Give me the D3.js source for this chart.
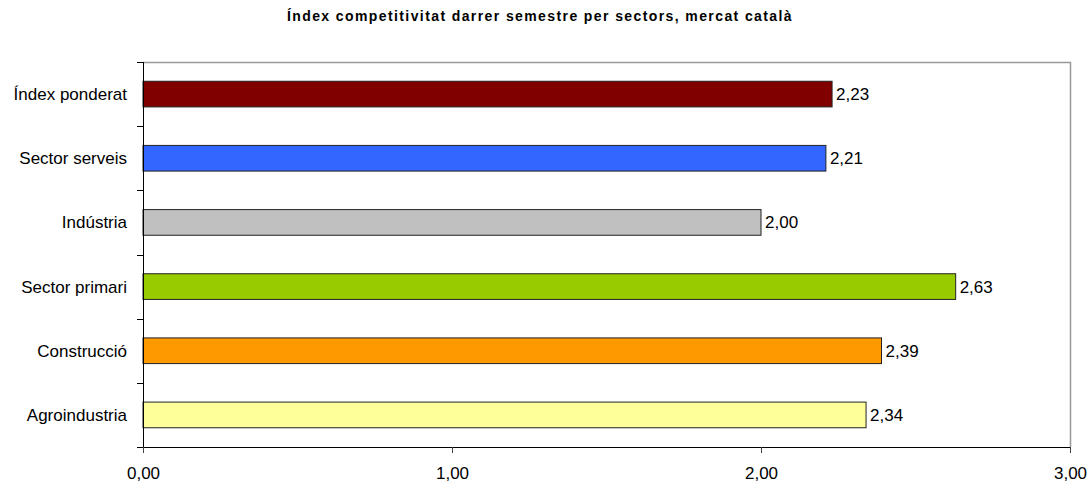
<!DOCTYPE html>
<html><head><meta charset="utf-8">
<script src="https://cdn.jsdelivr.net/npm/d3@7"></script>
<style>body{margin:0;background:#fff}svg{display:block}text{font-family:"Liberation Sans",Arial,sans-serif}</style>
</head><body>
<svg id="c" width="1089" height="482"></svg>
<script>
const title = "Índex competitivitat darrer semestre per sectors, mercat català";
const categories = ["Índex ponderat","Sector serveis","Indústria","Sector primari","Construcció","Agroindustria"];
const values = [2.23, 2.21, 2.00, 2.63, 2.39, 2.34];
const colors = ["#800000","#3366FF","#C0C0C0","#99CC00","#FF9900","#FFFF99"];
const xTicks = [0, 1, 2, 3];

const svg = d3.select("#c");
const m = {left:143, right:1070, top:62, bottom:447};
const x = d3.scaleLinear().domain([0,3]).range([m.left, m.right]);
const y = d3.scaleBand().domain(categories).range([m.top, m.bottom]).paddingInner(0.6).paddingOuter(0.3);
const fmt = v => d3.format(".2f")(v).replace(".", ",");

svg.append("text").attr("x", 540).attr("y", 21).attr("text-anchor","middle")
  .attr("font-size", 14).attr("font-weight","bold").attr("letter-spacing", 1.4).text(title);

// plot border top/right
svg.append("path").attr("d", `M${m.left},${m.top+0.5}H${m.right+0.5}V${m.bottom}`)
  .attr("fill","none").attr("stroke","#999").attr("stroke-width",1.5);

svg.selectAll("rect.bar").data(values).join("rect").attr("class","bar")
  .attr("x", x(0)).attr("y", (d,i)=>y(categories[i]))
  .attr("width", d=>x(d)-x(0)).attr("height", y.bandwidth())
  .attr("fill", (d,i)=>colors[i]).attr("stroke","#222").attr("stroke-width",1);

svg.selectAll("text.val").data(values).join("text").attr("class","val")
  .attr("x", d=>x(d)+4).attr("y", (d,i)=>y(categories[i])+y.bandwidth()/2)
  .attr("dy","0.35em").attr("font-size",17).text(fmt);

// y axis
const yb = d3.scaleLinear().domain([0,categories.length]).range([m.top,m.bottom]);
const ya = svg.append("g");
ya.append("line").attr("x1",m.left+0.5).attr("x2",m.left+0.5).attr("y1",m.top).attr("y2",m.bottom).attr("stroke","#000");
ya.selectAll("line.t").data(d3.range(categories.length+1)).join("line").attr("class","t")
  .attr("x1",m.left-6).attr("x2",m.left).attr("y1",d=>Math.round(yb(d))+0.5).attr("y2",d=>Math.round(yb(d))+0.5).attr("stroke","#000");
ya.selectAll("text").data(categories).join("text")
  .attr("x", m.left-16).attr("y", d=>y(d)+y.bandwidth()/2).attr("dy","0.35em")
  .attr("text-anchor","end").attr("font-size",17).text(d=>d);

// x axis
const xa = svg.append("g").attr("transform",`translate(0,${m.bottom})`)
  .call(d3.axisBottom(x).tickValues(xTicks).tickSize(6).tickPadding(14).tickFormat(fmt));
xa.select(".domain").attr("stroke","#000");
xa.selectAll(".tick line").attr("stroke","#444");
xa.selectAll("text").attr("font-size",17).attr("font-family","Liberation Sans, Arial, sans-serif").attr("fill","#000");
</script>
</body></html>
